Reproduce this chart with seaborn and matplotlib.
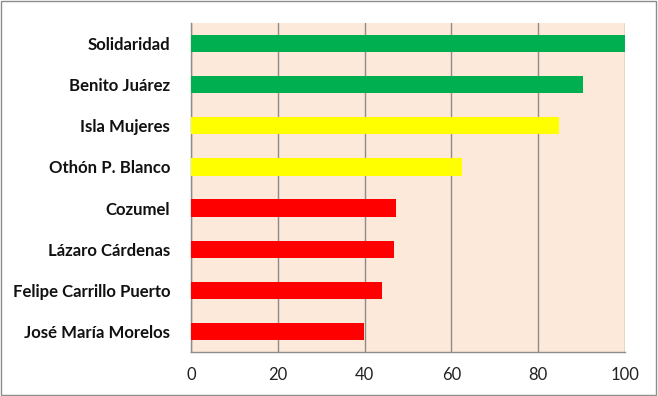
import matplotlib
matplotlib.use("Agg")
import matplotlib.pyplot as plt
import seaborn as sns
import pandas as pd
import numpy as np
from matplotlib.patches import Rectangle

municipios = ["Solidaridad", "Benito Juárez", "Isla Mujeres", "Othón P. Blanco",
              "Cozumel", "Lázaro Cárdenas", "Felipe Carrillo Puerto", "José María Morelos"]
valores = [100, 90.4, 84.8, 62.5, 47.3, 46.7, 43.9, 39.9]
colores = ["#00B050", "#00B050", "#FFFF00", "#FFFF00",
           "#FF0000", "#FF0000", "#FF0000", "#FF0000"]
xticks = [0, 20, 40, 60, 80, 100]

df = pd.DataFrame({"municipio": municipios, "valor": valores})

sns.set_style("white")
plt.rcParams['font.family'] = ['Lato', 'DejaVu Sans']

fig = plt.figure(figsize=(6.58, 3.96), dpi=100)
ax = fig.add_axes([191/658, 1 - 352/396, (625 - 191)/658, (352 - 23)/396])
ax.set_facecolor("#FDE9D9")

sns.barplot(data=df, y="municipio", x="valor", hue="municipio",
            palette=colores, orient="h", width=0.42, legend=False,
            saturation=1, ax=ax, zorder=3, linewidth=0)

ax.set_xlim(0, 100)
ax.set_ylim(len(municipios) - 0.5, -0.5)
ax.set_xticks(xticks)
ax.set_xticklabels([str(t) for t in xticks], fontsize=12, color="#222222")
ax.xaxis.grid(True, color="#8C8C8C", linewidth=1, zorder=0)
ax.set_axisbelow(True)
ax.set_xlabel("")
ax.set_ylabel("")

ax.set_yticks(range(len(municipios)))
ax.set_yticklabels(municipios, fontsize=12.1, fontweight="bold", color="#111111")
ax.tick_params(axis="y", length=0, pad=15)
ax.set_yticks(np.arange(-0.5, len(municipios), 1), minor=True)
ax.tick_params(axis="y", which="minor", length=5, color="#8C8C8C", width=1, direction="out")
ax.tick_params(axis="x", length=5, color="#8C8C8C", width=1, direction="out", pad=6)

for side in ["top", "right"]:
    ax.spines[side].set_visible(False)
for side in ["left", "bottom"]:
    ax.spines[side].set_color("#8C8C8C")
    ax.spines[side].set_linewidth(1)

fig.patches.append(Rectangle((0.002, 0.003), 0.995, 0.994, transform=fig.transFigure,
                             fill=False, edgecolor="#8C8C8C", linewidth=1))

fig.savefig("out.png", dpi=100)
